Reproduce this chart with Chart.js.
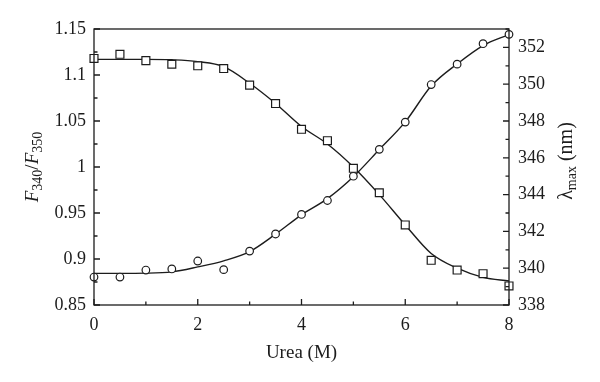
<!DOCTYPE html>
<html><head><meta charset="utf-8">
<script src="https://cdn.jsdelivr.net/npm/chart.js@4.4.1/dist/chart.umd.min.js"></script>
<style>html,body{margin:0;padding:0;background:#fff}canvas{display:block}</style>
</head><body>
<canvas id="c" width="600" height="382"></canvas>
<script>
// ---- data ----
const urea = [0, 0.5, 1, 1.5, 2, 2.5, 3, 3.5, 4, 4.5, 5, 5.5, 6, 6.5, 7, 7.5, 8];
const ratioF340F350 = [1.118, 1.1225, 1.1156, 1.1117, 1.110, 1.107, 1.089, 1.069, 1.041, 1.0286, 0.9986, 0.972, 0.937, 0.8986, 0.888, 0.884, 0.8707];
const lambdaMax = [339.52, 339.52, 339.90, 339.96, 340.39, 339.92, 340.93, 341.86, 342.92, 343.68, 345.0, 346.46, 347.94, 349.98, 351.09, 352.2, 352.71];
const fitUrea = [0, 0.5, 1, 1.5, 2, 2.5, 3, 3.5, 4, 4.5, 5, 5.5, 6, 6.5, 7, 7.5, 8];
const ratioFit = [1.117, 1.117, 1.117, 1.1165, 1.1145, 1.109, 1.091, 1.069, 1.044, 1.025, 1.0, 0.970, 0.937, 0.906, 0.890, 0.880, 0.876];
const lambdaFit = [339.72, 339.72, 339.73, 339.8, 340.07, 340.4, 340.9, 341.85, 342.9, 343.78, 344.97, 346.45, 347.95, 349.9, 351.1, 352.1, 352.7];
const xTickValues = [0, 2, 4, 6, 8];
const leftTickValues = [0.85, 0.9, 0.95, 1, 1.05, 1.1, 1.15];
const leftTickLabels = ['0.85', '0.9', '0.95', '1', '1.05', '1.1', '1.15'];
const rightTickValues = [338, 340, 342, 344, 346, 348, 350, 352];
const rightTickLabels = ['338', '340', '342', '344', '346', '348', '350', '352'];
const xTitle = 'Urea (M)';
const leftTitle = [{t:'F', it:true}, {t:'340', sub:true}, {t:'/'}, {t:'F', it:true}, {t:'350', sub:true}];
const rightTitle = [{t:'λ'}, {t:'max', sub:true}, {t:' (nm)'}];

const INK = '#1c1c1c';
const FONT = "'Liberation Serif', 'Times New Roman', serif";
const FS = 18;

const pts = (xs, ys) => xs.map((x, i) => ({x, y: ys[i]}));

function drawRich(ctx, segs, cx, cy, rot, size) {
  ctx.save();
  ctx.translate(cx, cy);
  ctx.rotate(rot);
  const big = size, small = Math.round(size * 0.72);
  const fontOf = s => (s.it ? 'italic ' : '') + (s.sub ? small : big) + 'px ' + FONT;
  let w = 0;
  segs.forEach(s => { ctx.font = fontOf(s); s.w = ctx.measureText(s.t).width; w += s.w; });
  let x = -w / 2;
  ctx.fillStyle = INK;
  ctx.textBaseline = 'middle';
  ctx.textAlign = 'left';
  segs.forEach(s => { ctx.font = fontOf(s); ctx.fillText(s.t, x, s.sub ? 5 : 0); x += s.w; });
  ctx.restore();
}

const framePlugin = {
  id: 'frame',
  beforeDraw(chart) {
    const ctx = chart.ctx;
    ctx.save(); ctx.fillStyle = '#fff'; ctx.fillRect(0, 0, chart.width, chart.height); ctx.restore();
  },
  afterDraw(chart) {
    const {ctx, chartArea: a, scales} = chart;
    ctx.save();
    ctx.strokeStyle = INK;
    ctx.lineWidth = 1.3;
    ctx.strokeRect(a.left, a.top, a.right - a.left, a.bottom - a.top);
    const MAJ = 6, MIN = 3.5;
    ctx.beginPath();
    xTickValues.forEach((v, i) => {
      const p = scales.x.getPixelForValue(v);
      ctx.moveTo(p, a.bottom); ctx.lineTo(p, a.bottom - MAJ);
      if (i < xTickValues.length - 1) {
        const m = scales.x.getPixelForValue((v + xTickValues[i + 1]) / 2);
        ctx.moveTo(m, a.bottom); ctx.lineTo(m, a.bottom - MIN);
      }
    });
    leftTickValues.forEach((v, i) => {
      const p = scales.y.getPixelForValue(v);
      ctx.moveTo(a.left, p); ctx.lineTo(a.left + MAJ, p);
      if (i < leftTickValues.length - 1) {
        const m = scales.y.getPixelForValue((v + leftTickValues[i + 1]) / 2);
        ctx.moveTo(a.left, m); ctx.lineTo(a.left + MIN, m);
      }
    });
    rightTickValues.forEach((v, i) => {
      const p = scales.y2.getPixelForValue(v);
      ctx.moveTo(a.right, p); ctx.lineTo(a.right - MAJ, p);
      const next = i < rightTickValues.length - 1 ? rightTickValues[i + 1] : v + 2;
      const m = scales.y2.getPixelForValue((v + next) / 2);
      if (m >= a.top) { ctx.moveTo(a.right, m); ctx.lineTo(a.right - MIN, m); }
    });
    ctx.stroke();
    ctx.restore();
    const midY = (a.top + a.bottom) / 2;
    drawRich(ctx, leftTitle, 33, midY, -Math.PI / 2, 19);
    drawRich(ctx, rightTitle, 567, midY - 6, -Math.PI / 2, 20);
    drawRich(ctx, [{t: xTitle}], (a.left + a.right) / 2, 353, 0, 19);
  }
};

new Chart(document.getElementById('c'), {
  type: 'scatter',
  data: {
    datasets: [
      { type: 'line', data: pts(fitUrea, ratioFit), yAxisID: 'y', borderColor: INK, borderWidth: 1.4,
        pointRadius: 0, cubicInterpolationMode: 'monotone', fill: false, order: 3 },
      { type: 'line', data: pts(fitUrea, lambdaFit), yAxisID: 'y2', borderColor: INK, borderWidth: 1.4,
        pointRadius: 0, cubicInterpolationMode: 'monotone', fill: false, order: 4 },
      { data: pts(urea, ratioF340F350), yAxisID: 'y', pointStyle: 'rect', pointRadius: 5.6,
        pointBackgroundColor: '#fff', pointBorderColor: INK, pointBorderWidth: 1.2, showLine: false, clip: false, order: 1 },
      { data: pts(urea, lambdaMax), yAxisID: 'y2', pointStyle: 'circle', pointRadius: 3.8,
        pointBackgroundColor: '#fff', pointBorderColor: INK, pointBorderWidth: 1.2, showLine: false, clip: false, order: 2 }
    ]
  },
  options: {
    responsive: false,
    animation: false,
    events: [],
    layout: { padding: { top: 29, left: 0, right: 0, bottom: 0 } },
    plugins: { legend: { display: false }, tooltip: { enabled: false } },
    scales: {
      x: {
        type: 'linear', min: 0, max: 8,
        afterBuildTicks: s => { s.ticks = xTickValues.map(v => ({value: v})); },
        afterFit: s => { s.height = 77; },
        grid: { display: false, drawTicks: false }, border: { display: false },
        ticks: { color: INK, font: { family: FONT, size: FS }, padding: 9, maxRotation: 0,
                 callback: v => String(v) }
      },
      y: {
        position: 'left', min: 0.85, max: 1.15,
        afterBuildTicks: s => { s.ticks = leftTickValues.map(v => ({value: v})); },
        afterFit: s => { s.width = 94; },
        grid: { display: false, drawTicks: false }, border: { display: false },
        ticks: { color: INK, font: { family: FONT, size: FS }, padding: 8,
                 callback: (v, i) => leftTickLabels[i] }
      },
      y2: {
        position: 'right', min: 338, max: 353,
        afterBuildTicks: s => { s.ticks = rightTickValues.map(v => ({value: v})); },
        afterFit: s => { s.width = 91; },
        grid: { display: false, drawTicks: false }, border: { display: false },
        ticks: { color: INK, font: { family: FONT, size: FS }, padding: 9,
                 callback: (v, i) => rightTickLabels[i] }
      }
    }
  },
  plugins: [framePlugin]
});
</script>
</body></html>
